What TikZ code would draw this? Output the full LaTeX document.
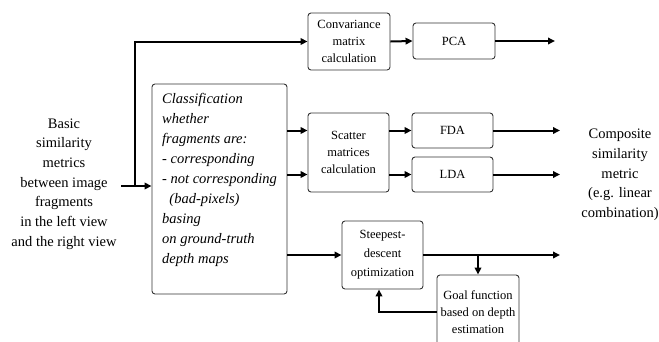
\documentclass[tikz,border=0pt]{standalone}
\usepackage{fontspec}
\setmainfont{Liberation Serif}
\usetikzlibrary{arrows.meta}
\begin{document}
\begin{tikzpicture}[x=1pt,y=-1pt,
 box/.style={draw=black!80, line width=0.9pt, rounded corners=3pt, inner sep=0pt, align=center, font=\fontsize{12.5}{17}\selectfont},
 arr/.style={line width=2pt, -{Triangle[length=7pt,width=6.5pt]}},
 ln/.style={line width=2pt},
 txt/.style={align=center, font=\fontsize{14.5}{19.7}\selectfont, inner sep=0pt}]
\useasboundingbox (0,0) rectangle (659,341);
\clip (0,0) rectangle (659,341);
\node[box, minimum width=82, minimum height=57] (cov) at (349,41.5) {Convariance\\matrix\\calculation};
\node[box, minimum width=82, minimum height=36] (pca) at (454,41) {PCA};
\node[box, minimum width=135, minimum height=210] (cls) at (219.5,189) {};
\node[anchor=north west, align=left, inner sep=0pt, font=\fontsize{14.5}{20}\selectfont\itshape] (clstxt) at (162,93) {Classification\\whether\\fragments are:\\- corresponding\\- not corresponding\\\hspace*{0.5em}(bad-pixels)\\basing\\on ground-truth\\depth maps};
\node[box, minimum width=81, minimum height=79] (sc) at (348.5,152.5) {Scatter\\matrices\\calculation};
\node[box, minimum width=81, minimum height=35] (fda) at (452.5,130.5) {FDA};
\node[box, minimum width=81, minimum height=35] (lda) at (452.5,174.5) {LDA};
\node[box, minimum width=81, minimum height=68, font=\fontsize{12.5}{19}\selectfont] (sd) at (382.5,255) {Steepest-\\descent\\optimization};
\node[box, minimum width=82, minimum height=74] (goal) at (478,312) {Goal function\\based on depth\\estimation};
\node[txt] (src) at (64,184) {Basic\\similarity\\metrics\\between image\\fragments\\in the left view\\and the right view};
\node[txt] (comp) at (620,175) {Composite\\similarity\\metric\\(e.g. linear\\combination)};
\coordinate (s0) at (121,186);
\coordinate (j) at (135,186);
\coordinate (o1) at (555,41);
\coordinate (o2) at (560,130.5);
\coordinate (o3) at (560,174.5);
\coordinate (o4) at (560,255);
\coordinate (fb) at (379,312);
\draw[ln] (s0) -- (j);
\draw[arr] (j) -- (cls.west |- j);
\draw[arr] (j) |- (cov.west);
\draw[arr] (cov.east) -- (pca.west);
\draw[arr] (pca.east) -- (o1);
\draw[arr] (cls.east |- fda.west) -- (sc.west |- fda.west);
\draw[arr] (cls.east |- lda.west) -- (sc.west |- lda.west);
\draw[arr] (sc.east |- fda.west) -- (fda.west);
\draw[arr] (sc.east |- lda.west) -- (lda.west);
\draw[arr] (fda.east) -- (o2);
\draw[arr] (lda.east) -- (o3);
\draw[arr] (cls.east |- sd.west) -- (sd.west);
\draw[arr] (sd.east) -- (o4);
\draw[arr] (goal.north |- sd.east) -- (goal.north);
\draw[arr] (goal.west) -- (fb) -- (fb |- sd.south);
\end{tikzpicture}
\end{document}
